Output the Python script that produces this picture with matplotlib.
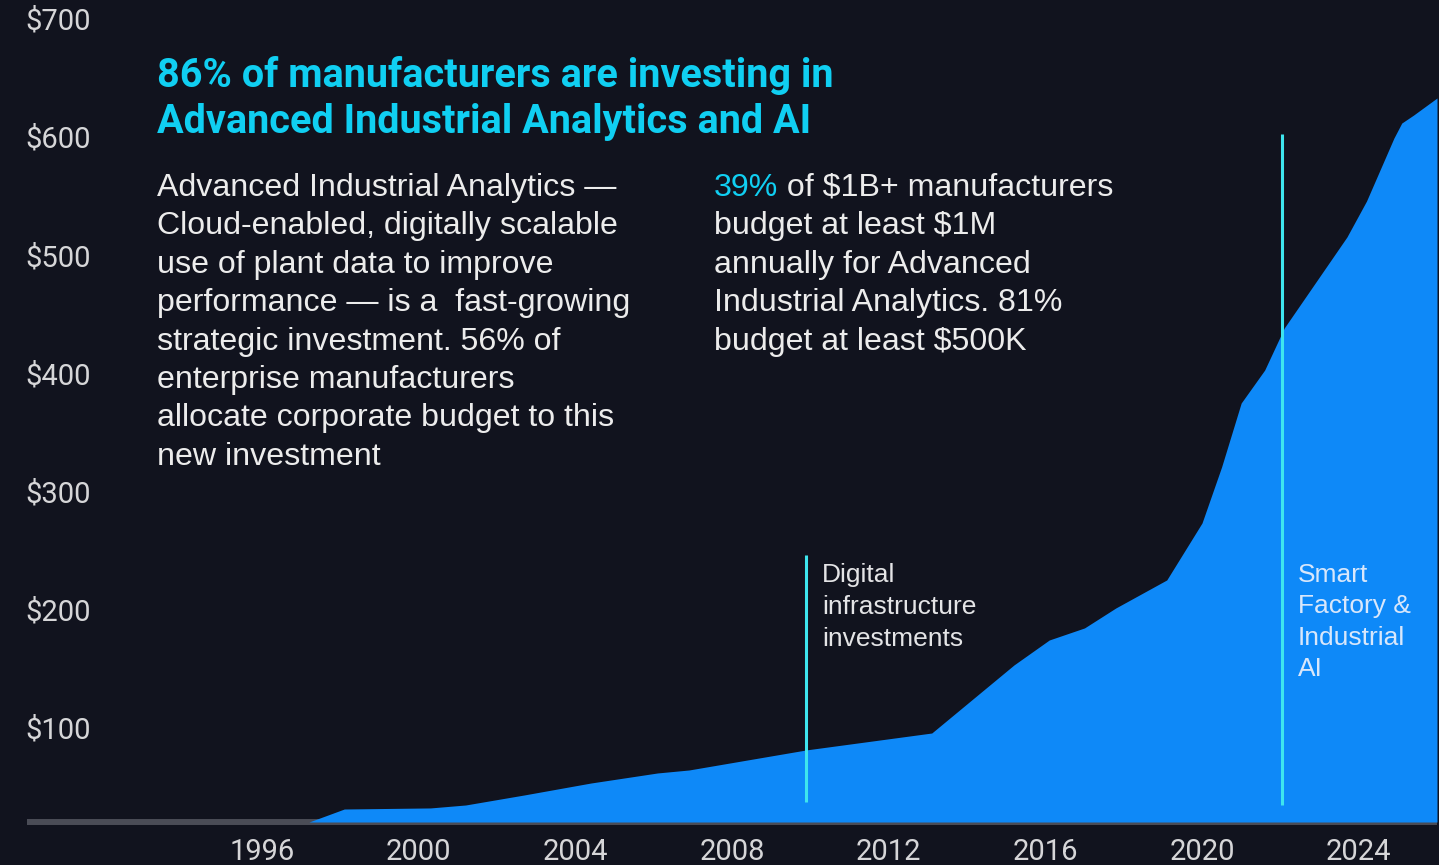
import matplotlib
matplotlib.use("Agg")
import matplotlib.pyplot as plt

# ---------------- data ----------------
years = [1990.0, 1997.2, 1998.1, 2000.3, 2001.2, 2002.7, 2004.4, 2006.1, 2006.9,
         2007.8, 2009.9, 2013.1, 2015.2, 2016.1, 2017.0, 2017.8, 2019.1, 2020.0,
         2020.5, 2021.0, 2021.6, 2022.1, 2023.7, 2024.2, 2024.9, 2025.1, 2025.4, 2026.0]
spend = [22.8, 22.8, 33.8, 34.7, 37.2, 45.7, 55.8, 64.3, 66.8,
         71.9, 83.8, 98.1, 155.7, 176.8, 187.0, 203.9, 227.6, 275.8,
         323.2, 377.3, 405.2, 440.8, 517.8, 548.2, 601.5, 614.2, 620.9, 635.4]
base_value = 22.8

x_ticks = [1996, 2000, 2004, 2008, 2012, 2016, 2020, 2024]
x_labels = ["1996", "2000", "2004", "2008", "2012", "2016", "2020", "2024"]
y_ticks = [100, 200, 300, 400, 500, 600, 700]
y_labels = ["$100", "$200", "$300", "$400", "$500", "$600", "$700"]

marker_years = [2009.9, 2022.05]
marker_tops = [248.7, 605.0]
marker_bottoms = [40.0, 37.0]
marker_labels = [["Digital", "infrastructure", "investments"],
                 ["Smart", "Factory &", "Industrial", "AI"]]

title_lines = ["86% of manufacturers are investing in",
               "Advanced Industrial Analytics and AI"]
left_lines = ["Advanced Industrial Analytics \u2014",
              "Cloud-enabled, digitally scalable",
              "use of plant data to improve",
              "performance \u2014 is a  fast-growing",
              "strategic investment. 56% of",
              "enterprise manufacturers",
              "allocate corporate budget to this",
              "new investment"]
right_highlight = "39%"
right_lines = [" of $1B+ manufacturers",
               "budget at least $1M",
               "annually for Advanced",
               "Industrial Analytics. 81%",
               "budget at least $500K"]

# ---------------- style ----------------
BG = "#11131e"
BLUE = "#0e89f8"
CYAN_LINE = "#3ee5ee"
CYAN_TEXT = "#10cff2"
AXIS_GRAY = "#4a4c56"
TICK_COLOR = "#d6d6d8"
TEXT_COLOR = "#ececec"

W, H = 1439, 865
fig = plt.figure(figsize=(W / 100, H / 100), dpi=100, facecolor=BG)
ax = fig.add_axes([27 / W, 43 / H, 1410 / W, 822 / H])
ax.set_facecolor(BG)
ax.set_xlim(1990, 2026)
ax.set_ylim(base_value, 718.3)

for s in ["top", "left", "right"]:
    ax.spines[s].set_visible(False)
ax.spines["bottom"].set_color(AXIS_GRAY)
ax.spines["bottom"].set_linewidth(4.3)
ax.spines["bottom"].set_capstyle("butt")

ax.fill_between(years, base_value, spend, color=BLUE, lw=0, zorder=3)
ax.vlines(marker_years, marker_bottoms, marker_tops, color=CYAN_LINE, lw=2.2, zorder=4)

tick_font = ["Roboto", "DejaVu Sans"]
ax.set_xticks(x_ticks)
ax.set_xticklabels(x_labels, family=tick_font, fontsize=21, color=TICK_COLOR)
ax.tick_params(axis="x", length=0, pad=11.5)
ax.set_yticks(y_ticks)
ax.set_yticklabels(y_labels, family=tick_font, fontsize=21, color=TICK_COLOR,
                   ha="left", va="center")
ax.tick_params(axis="y", length=0, pad=1.4)


def px(x, y):
    return x / W, 1 - y / H


# title
for i, line in enumerate(title_lines):
    fig.text(*px(157, 87 + i * 46), line, family=["Roboto", "DejaVu Sans"],
             weight="bold", fontsize=28.5, color=CYAN_TEXT, va="baseline", ha="left")

body_font = ["Liberation Sans", "DejaVu Sans"]
BODY_SIZE = 23.1
for i, line in enumerate(left_lines):
    fig.text(*px(157, 196 + i * 38.4), line, family=body_font, fontsize=BODY_SIZE,
             color=TEXT_COLOR, va="baseline", ha="left")

t39 = fig.text(*px(714, 196), right_highlight, family=body_font, fontsize=BODY_SIZE,
               color=CYAN_TEXT, va="baseline", ha="left")
fig.canvas.draw()
bb = t39.get_window_extent()
x_after = 714 + bb.width
for i, line in enumerate(right_lines):
    x0 = x_after if i == 0 else 714
    fig.text(*px(x0, 196 + i * 38.4), line, family=body_font, fontsize=BODY_SIZE,
             color=TEXT_COLOR, va="baseline", ha="left")

# marker annotations
ann_font = ["Liberation Sans", "DejaVu Sans"]
for i, line in enumerate(marker_labels[0]):
    fig.text(*px(822, 582 + i * 32), line, family=ann_font, fontsize=19,
             color="#e4e4e6", va="baseline", ha="left")
for i, line in enumerate(marker_labels[1]):
    fig.text(*px(1298, 582 + i * 31.5), line, family=ann_font, fontsize=19,
             color="#d8e7fb", va="baseline", ha="left")

fig.savefig("out.png", dpi=100, facecolor=BG)
